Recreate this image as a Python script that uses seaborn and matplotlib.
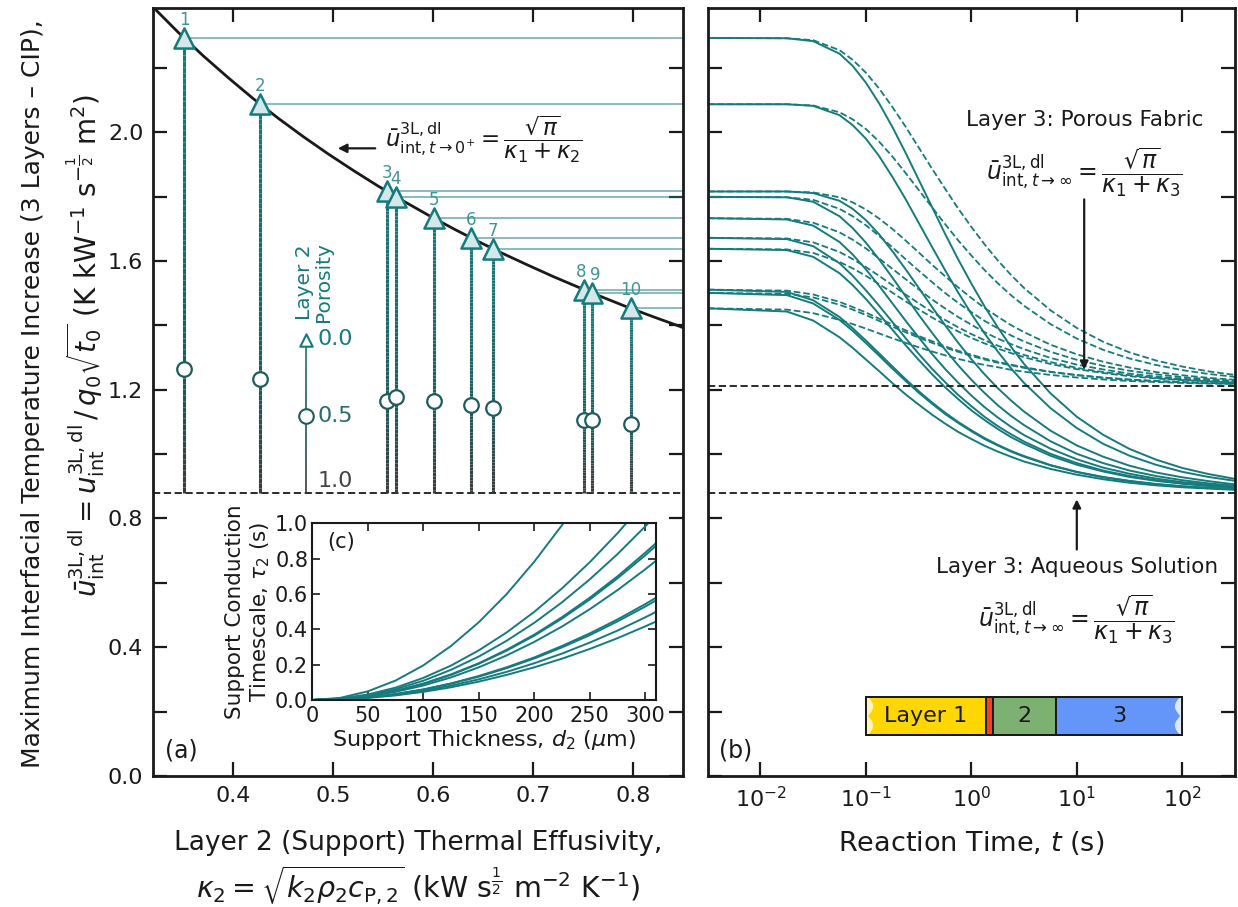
import numpy as np
import pandas as pd
import matplotlib
matplotlib.use("Agg")
import matplotlib.pyplot as plt
import seaborn as sns
from matplotlib.collections import LineCollection
from matplotlib.patches import Polygon, Rectangle
import matplotlib.colors as mcolors

sns.set_theme(style="ticks")
plt.rcParams['font.family'] = ['DejaVu Sans']
plt.rcParams['mathtext.fontset'] = 'dejavusans'
for k in ['text.color', 'axes.labelcolor', 'xtick.color', 'ytick.color']:
    plt.rcParams[k] = 'k'

TEAL = '#167b7d'
MIDC = '#1f5c5e'
GRAY = '#3a3a3a'

# ---------------- data
# panel (a): samples 1..10
kappa2 = [0.351, 0.427, 0.554, 0.563, 0.601, 0.638, 0.660, 0.751, 0.759, 0.798]
u_tri = [2.293, 2.087, 1.816, 1.799, 1.733, 1.672, 1.638, 1.511, 1.501, 1.453]    # porosity 0.0
u_circ = [1.265, 1.234, 1.164, 1.179, 1.166, 1.152, 1.143, 1.107, 1.107, 1.094]   # porosity 0.5
u_base = 0.879       # porosity 1.0 / aqueous limit
u_fabric = 1.213     # porous fabric limit

kappa_curve = [0.32, 0.345, 0.37, 0.395, 0.42, 0.445, 0.47, 0.495, 0.52, 0.545, 0.57, 0.595, 0.62,
               0.645, 0.67, 0.695, 0.72, 0.745, 0.77, 0.795, 0.82, 0.845, 0.85]
u_curve = [2.389, 2.311, 2.238, 2.170, 2.105, 2.044, 1.987, 1.933, 1.882, 1.833, 1.787, 1.743, 1.701,
           1.661, 1.623, 1.587, 1.552, 1.519, 1.487, 1.456, 1.427, 1.399, 1.393]

# panel (b): log10 of reaction time (s) and curve values (x 1e-3)
LOG_T = [-2.5, -1.75, -1.5, -1.25, -1.125, -1.0, -0.875, -0.75, -0.625, -0.5, -0.375, -0.25,
         -0.125, 0.0, 0.125, 0.25, 0.375, 0.5, 0.75, 1.0, 1.25, 1.5, 1.75, 2.0, 2.25, 2.5]
aq1 = [2293, 2292, 2283, 2244, 2206, 2154, 2090, 2017, 1937, 1853, 1769, 1685, 1605, 1530, 1459, 1394, 1334, 1280, 1189, 1116, 1060, 1016, 983, 957, 938, 923]
aq2 = [2087, 2087, 2082, 2053, 2022, 1980, 1926, 1862, 1793, 1719, 1645, 1572, 1502, 1436, 1375, 1319, 1267, 1221, 1143, 1081, 1032, 995, 967, 945, 929, 917]
aq3 = [1816, 1816, 1811, 1787, 1762, 1727, 1683, 1631, 1575, 1517, 1458, 1401, 1346, 1295, 1248, 1205, 1167, 1132, 1073, 1027, 992, 964, 943, 928, 916, 906]
aq4 = [1799, 1798, 1784, 1739, 1702, 1657, 1605, 1549, 1491, 1433, 1378, 1325, 1276, 1231, 1190, 1152, 1119, 1090, 1040, 1001, 972, 949, 932, 919, 909, 902]
aq5 = [1733, 1729, 1710, 1659, 1620, 1574, 1523, 1469, 1415, 1363, 1312, 1265, 1222, 1182, 1146, 1114, 1085, 1059, 1017, 984, 958, 939, 924, 913, 905, 898]
aq6 = [1672, 1668, 1646, 1593, 1554, 1509, 1461, 1411, 1361, 1312, 1266, 1224, 1184, 1149, 1116, 1087, 1062, 1039, 1001, 972, 949, 932, 919, 909, 902, 896]
aq7 = [1638, 1634, 1613, 1562, 1525, 1482, 1435, 1387, 1339, 1293, 1249, 1208, 1171, 1136, 1106, 1078, 1053, 1032, 995, 967, 946, 929, 917, 908, 901, 895]
aq8 = [1511, 1504, 1478, 1426, 1391, 1353, 1313, 1273, 1233, 1196, 1161, 1129, 1100, 1074, 1050, 1029, 1010, 994, 966, 945, 929, 917, 907, 900, 895, 891]
aq9 = [1501, 1494, 1468, 1417, 1383, 1345, 1306, 1266, 1228, 1191, 1157, 1125, 1097, 1071, 1047, 1027, 1008, 992, 965, 944, 928, 916, 907, 900, 895, 891]
aq10 = [1453, 1443, 1415, 1363, 1330, 1294, 1258, 1221, 1186, 1154, 1123, 1095, 1069, 1047, 1026, 1008, 992, 977, 954, 936, 922, 911, 903, 897, 893, 889]
fb1 = [2293, 2292, 2286, 2255, 2225, 2185, 2136, 2079, 2018, 1953, 1888, 1825, 1763, 1706, 1652, 1602, 1557, 1516, 1447, 1392, 1349, 1316, 1291, 1272, 1257, 1246]
fb2 = [2087, 2087, 2083, 2062, 2040, 2010, 1971, 1925, 1874, 1821, 1768, 1715, 1664, 1617, 1572, 1531, 1494, 1461, 1404, 1359, 1324, 1297, 1277, 1261, 1249, 1240]
fb3 = [1816, 1816, 1813, 1798, 1782, 1760, 1732, 1700, 1664, 1627, 1589, 1553, 1518, 1485, 1454, 1427, 1401, 1379, 1340, 1310, 1287, 1269, 1255, 1245, 1237, 1231]
fb4 = [1799, 1798, 1790, 1762, 1739, 1711, 1678, 1643, 1606, 1570, 1535, 1501, 1470, 1441, 1414, 1391, 1369, 1350, 1318, 1293, 1274, 1259, 1248, 1239, 1233, 1228]
fb5 = [1733, 1731, 1719, 1689, 1666, 1639, 1608, 1576, 1544, 1512, 1481, 1453, 1426, 1402, 1379, 1359, 1342, 1326, 1299, 1278, 1263, 1250, 1241, 1234, 1229, 1225]
fb6 = [1672, 1670, 1658, 1628, 1606, 1581, 1554, 1525, 1496, 1469, 1442, 1417, 1394, 1373, 1354, 1337, 1322, 1308, 1286, 1268, 1255, 1245, 1237, 1231, 1227, 1223]
fb7 = [1638, 1636, 1625, 1597, 1577, 1554, 1528, 1502, 1475, 1450, 1425, 1402, 1381, 1361, 1344, 1328, 1314, 1301, 1280, 1264, 1252, 1242, 1235, 1230, 1226, 1222]
fb8 = [1511, 1508, 1496, 1473, 1457, 1440, 1421, 1403, 1385, 1367, 1351, 1335, 1321, 1309, 1297, 1287, 1278, 1270, 1256, 1246, 1238, 1232, 1227, 1224, 1221, 1219]
fb9 = [1501, 1498, 1487, 1464, 1449, 1432, 1414, 1396, 1379, 1362, 1346, 1331, 1318, 1305, 1294, 1284, 1276, 1268, 1255, 1245, 1237, 1231, 1227, 1223, 1221, 1219]
fb10 = [1453, 1449, 1438, 1417, 1404, 1390, 1375, 1360, 1346, 1332, 1319, 1307, 1296, 1286, 1277, 1270, 1262, 1256, 1246, 1238, 1232, 1227, 1224, 1221, 1219, 1218]

# inset (c): support thickness (um) vs conduction timescale (s)
d2 = [0, 25, 50, 75, 100, 125, 150, 175, 200, 225, 250, 275, 300, 310]
tau_c1 = [0, 0.012, 0.049, 0.110, 0.196, 0.306, 0.440, 0.599, 0.783, 0.990, 1.223, 1.479, 1.761, 1.88]
tau_c2 = [0, 0.008, 0.031, 0.070, 0.125, 0.195, 0.281, 0.382, 0.499, 0.632, 0.780, 0.944, 1.124, 1.2]
tau_c3 = [0.0, 0.007, 0.027, 0.061, 0.109, 0.171, 0.246, 0.335, 0.437, 0.553, 0.683, 0.826, 0.983, 1.05]
tau_c4 = [0.0, 0.006, 0.023, 0.052, 0.093, 0.145, 0.208, 0.284, 0.37, 0.469, 0.579, 0.7, 0.834, 0.89]
tau_c5 = [0.0, 0.006, 0.023, 0.051, 0.091, 0.142, 0.205, 0.279, 0.364, 0.461, 0.569, 0.689, 0.819, 0.875]
tau_c6 = [0.0, 0.005, 0.021, 0.046, 0.082, 0.128, 0.185, 0.252, 0.329, 0.416, 0.514, 0.622, 0.74, 0.79]
tau_c7 = [0.0, 0.004, 0.015, 0.034, 0.06, 0.094, 0.136, 0.185, 0.241, 0.306, 0.377, 0.456, 0.543, 0.58]
tau_c8 = [0.0, 0.004, 0.015, 0.033, 0.059, 0.092, 0.132, 0.18, 0.235, 0.298, 0.367, 0.445, 0.529, 0.565]
tau_c9 = [0.0, 0.003, 0.013, 0.029, 0.052, 0.081, 0.117, 0.159, 0.208, 0.263, 0.325, 0.393, 0.468, 0.5]
tau_c10 = [0.0, 0.003, 0.012, 0.026, 0.046, 0.072, 0.104, 0.142, 0.185, 0.234, 0.289, 0.35, 0.417, 0.445]

layer_bounds = [0.1, 1.374, 1.596, 6.38, 100]
layer_names = ['Layer 1', '', '2', '3']
layer_colors = ['#ffd700', '#ff3d1f', '#7db172', '#6496fa']

# ---------------- figure
fig = plt.figure(figsize=(12.38, 9.07), dpi=100)
W, H = 1238, 907
axL = fig.add_axes([153/W, 1-776/H, (683-153)/W, (776-8)/H])
axR = fig.add_axes([707.7/W, 1-776/H, (1235-707.7)/W, (776-8)/H])
axI = fig.add_axes([312.3/W, 1-700/H, (656.4-312.3)/W, (700-523.3)/H])

# ---------------- panel (a)
sns.lineplot(x=kappa_curve, y=u_curve, ax=axL, color='k', lw=2, zorder=3)
axL.axhline(u_base, color='k', ls='--', lw=1.3, dashes=(4, 2), zorder=2)
axL.hlines(u_tri, kappa2, 0.85, color=TEAL, alpha=0.55, lw=1.3, zorder=2)

cmap = mcolors.LinearSegmentedColormap.from_list('por', [(0, TEAL), (0.5, MIDC), (1, GRAY)])

def grad_line(ax, x, yb, yc, yt, lw):
    ys = np.linspace(yb, yt, 80)
    p = np.where(ys < yc, 1 - 0.5*(ys-yb)/(yc-yb), 0.5 - 0.5*(ys-yc)/(yt-yc))
    pts = np.column_stack([np.full_like(ys, x), ys]).reshape(-1, 1, 2)
    segs = np.concatenate([pts[:-1], pts[1:]], axis=1)
    ax.add_collection(LineCollection(segs, colors=cmap(p[:-1]), lw=lw, zorder=3))

for k, ut, uc in zip(kappa2, u_tri, u_circ):
    grad_line(axL, k, u_base, uc, ut, 2.2)
sns.scatterplot(x=kappa2, y=u_circ, ax=axL, marker='o', s=110, color='white',
                edgecolor=MIDC, linewidth=1.6, zorder=5)
sns.scatterplot(x=kappa2, y=u_tri, ax=axL, marker='^', s=210, color='#d3e8e8',
                edgecolor=TEAL, linewidth=1.8, zorder=6)
for i, (k, ut) in enumerate(zip(kappa2, u_tri)):
    dx = -0.003 if i == 7 else (0.003 if i == 8 else 0)
    axL.text(k+dx, ut+0.028, str(i+1), ha='center', va='bottom', fontsize=12,
             color='#3d9595', zorder=7)

# porosity key
xl = 0.473
grad_line(axL, xl, u_base, 1.118, 1.355, 1.2)
axL.scatter([xl], [1.118], marker='o', s=110, color='white', edgecolor=MIDC, linewidth=1.5, zorder=5)
axL.scatter([xl], [1.355], marker='^', s=80, color='white', edgecolor=TEAL, linewidth=1.5, zorder=5)
axL.text(0.485, 1.358, '0.0', color=TEAL, fontsize=16, va='center', ha='left')
axL.text(0.485, 1.117, '0.5', color='#2a6b6d', fontsize=16, va='center', ha='left')
axL.text(0.485, 0.918, '1.0', color='#444444', fontsize=16, va='center', ha='left')
axL.text(0.481, 1.535, 'Layer 2\nPorosity', rotation=90, color=TEAL, fontsize=14.5,
         ha='center', va='center', multialignment='center', linespacing=1.0)

axL.annotate('', xy=(0.502, 1.95), xytext=(0.545, 1.95),
             arrowprops=dict(arrowstyle='-|>', color='k', lw=1.6, mutation_scale=13))
axL.text(0.552, 1.978, r'$\bar{u}^{\rm 3L,dl}_{{\rm int},t\rightarrow 0^{+}} = \dfrac{\sqrt{\pi}}{\kappa_1+\kappa_2}$',
         fontsize=16.5, va='center', ha='left')
axL.text(0.022, 0.018, '(a)', transform=axL.transAxes, fontsize=17, ha='left', va='bottom')

axL.set_xlim(0.32, 0.85)
axL.set_ylim(0, 2.386)
axL.set_xticks([0.4, 0.5, 0.6, 0.7, 0.8])
axL.set_yticks([0.0, 0.4, 0.8, 1.2, 1.6, 2.0])
axL.set_yticks(np.arange(0.2, 2.3, 0.4), minor=True)

# ---------------- panel (b)
t_s = 10**np.array(LOG_T)
for fb in [fb1, fb2, fb3, fb4, fb5, fb6, fb7, fb8, fb9, fb10]:
    sns.lineplot(x=t_s, y=np.array(fb)/1000, ax=axR, color=TEAL, lw=1.3, ls='--', dashes=(4, 2))
for aq in [aq1, aq2, aq3, aq4, aq5, aq6, aq7, aq8, aq9, aq10]:
    sns.lineplot(x=t_s, y=np.array(aq)/1000, ax=axR, color=TEAL, lw=1.4)
axR.axhline(u_base, color='k', ls='--', lw=1.3, dashes=(4, 2))
axR.axhline(u_fabric, color='k', ls='--', lw=1.3, dashes=(4, 2))
axR.set_xscale('log')
axR.set_xlim(10**-2.5, 10**2.5)
axR.set_ylim(0, 2.386)
axR.set_yticks(np.arange(0, 2.3, 0.2))
axR.set_yticklabels([])
axR.set_xticks([1e-2, 1e-1, 1e0, 1e1, 1e2])
axR.xaxis.set_minor_locator(matplotlib.ticker.NullLocator())

xc = 10**1.07
axR.text(xc, 2.037, 'Layer 3: Porous Fabric', ha='center', va='center', fontsize=15.5)
axR.text(xc, 1.876, r'$\bar{u}^{\rm 3L,dl}_{{\rm int},t\rightarrow\infty} = \dfrac{\sqrt{\pi}}{\kappa_1+\kappa_3}$',
         ha='center', va='center', fontsize=17)
axR.annotate('', xy=(xc, 1.254), xytext=(xc, 1.80),
             arrowprops=dict(arrowstyle='-|>', color='k', lw=1.6, mutation_scale=12))
xa = 10**1.0
axR.text(xa, 0.648, 'Layer 3: Aqueous Solution', ha='center', va='center', fontsize=15.5)
axR.text(xa, 0.487, r'$\bar{u}^{\rm 3L,dl}_{{\rm int},t\rightarrow\infty} = \dfrac{\sqrt{\pi}}{\kappa_1+\kappa_3}$',
         ha='center', va='center', fontsize=17)
axR.annotate('', xy=(xa, 0.868), xytext=(xa, 0.695),
             arrowprops=dict(arrowstyle='-|>', color='k', lw=1.6, mutation_scale=12))
axR.text(0.021, 0.018, '(b)', transform=axR.transAxes, fontsize=17, ha='left', va='bottom')

# layer schematic
yb0, yb1 = 0.127, 0.246
for i in range(4):
    x0, x1 = layer_bounds[i], layer_bounds[i+1]
    axR.add_patch(Rectangle((x0, yb0), x1-x0, yb1-yb0, facecolor=layer_colors[i],
                            edgecolor='k', lw=1.4, zorder=4))
    if layer_names[i]:
        axR.text(np.sqrt(x0*x1), (yb0+yb1)/2, layer_names[i], ha='center', va='center',
                 fontsize=16, zorder=7)
yy = np.linspace(yb0, yb1, 40)
wv = 0.02 + 0.05*np.abs(np.sin((yy-yb0)/(yb1-yb0)*2*np.pi))
x_l, x_r = layer_bounds[0], layer_bounds[-1]
axR.add_patch(Polygon(np.column_stack([np.r_[x_l*10**wv, x_l, x_l], np.r_[yy, yb1, yb0]]),
                      closed=True, facecolor='#fff5b8', edgecolor='none', zorder=5))
axR.add_patch(Polygon(np.column_stack([np.r_[x_r*10**(-wv), x_r, x_r], np.r_[yy, yb1, yb0]]),
                      closed=True, facecolor='#dde7fd', edgecolor='none', zorder=5))
axR.add_patch(Rectangle((x_l, yb0), x_r-x_l, yb1-yb0, facecolor='none',
                        edgecolor='k', lw=1.4, zorder=6))

# ---------------- inset (c)
for tc in [tau_c1, tau_c2, tau_c3, tau_c4, tau_c5, tau_c6, tau_c7, tau_c8, tau_c9, tau_c10]:
    sns.lineplot(x=d2, y=tc, ax=axI, color=TEAL, lw=1.4)
axI.set_xlim(0, 310)
axI.set_ylim(0, 1)
axI.set_xticks([0, 50, 100, 150, 200, 250, 300])
axI.set_yticks([0, 0.2, 0.4, 0.6, 0.8, 1.0])
axI.set_yticklabels(['0.0', '0.2', '0.4', '0.6', '0.8', '1.0'])
axI.set_xlabel(r'Support Thickness, $d_2$ ($\mu$m)', fontsize=16, labelpad=2)
axI.set_ylabel('Support Conduction\nTimescale, $\\tau_2$ (s)', fontsize=15.5, labelpad=2)
axI.text(0.044, 0.896, '(c)', transform=axI.transAxes, fontsize=15, ha='left', va='center')
axI.tick_params(direction='in', which='both', top=True, right=True, labelsize=15,
                length=6, width=1.2)
axI.tick_params(axis='x', pad=4)
axI.tick_params(axis='y', pad=3)
for s in axI.spines.values():
    s.set_linewidth(1.5); s.set_color('k')

for ax in (axL, axR):
    ax.tick_params(direction='in', which='both', top=True, right=True, labelsize=16,
                   length=10, width=1.6, pad=7)
    for s in ax.spines.values():
        s.set_linewidth(2); s.set_color('k')
    ax.set_xlabel(''); ax.set_ylabel('')

fig.text(33/W, 1-394/H, 'Maximum Interfacial Temperature Increase (3 Layers – CIP),',
         rotation=90, ha='center', va='center', fontsize=18)
fig.text(86/W, 1-345/H, r'$\bar{u}^{\rm 3L,dl}_{\rm int} = u^{\rm 3L,dl}_{\rm int}\,/\,q_0\sqrt{t_0}$ (K kW$^{-1}$ s$^{-\frac{1}{2}}$ m$^{2}$)',
         rotation=90, ha='center', va='center', fontsize=20)
fig.text(418/W, 1-843/H, 'Layer 2 (Support) Thermal Effusivity,', ha='center', va='center', fontsize=19)
fig.text(418/W, 1-885/H, r'$\kappa_2 = \sqrt{k_2\rho_2 c_{\rm P,2}}$ (kW s$^{\frac{1}{2}}$ m$^{-2}$ K$^{-1}$)',
         ha='center', va='center', fontsize=20.5)
fig.text(971/W, 1-843/H, 'Reaction Time, $t$ (s)', ha='center', va='center', fontsize=19.5)

fig.savefig('out.png', dpi=100)
